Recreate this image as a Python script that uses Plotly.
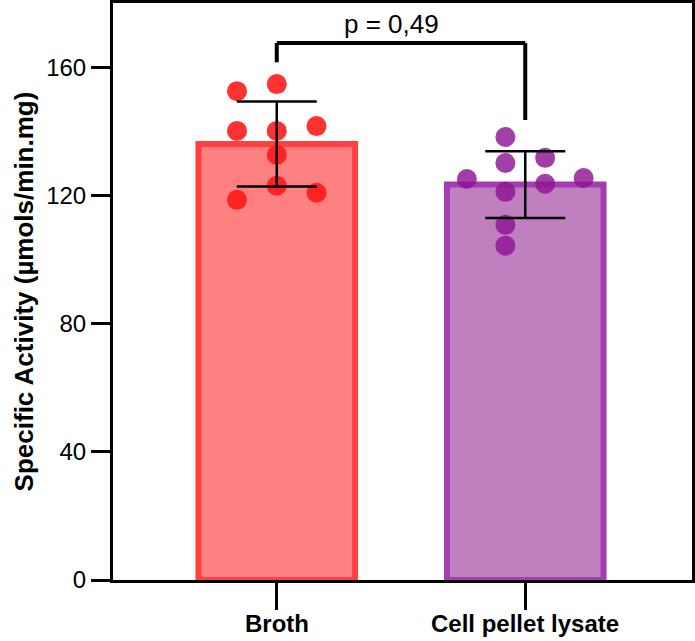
import plotly.graph_objects as go
import numpy as np

categories = ["Broth", "Cell pellet lysate"]
broth_values = [152.5, 154.7, 140.1, 140.1, 141.6, 132.6, 123.0, 120.8, 118.6]
broth_jitter = [-0.16, 0.0, -0.16, 0.0, 0.16, 0.0, 0.0, 0.16, -0.16]
lysate_values = [138.2, 130.1, 131.7, 125.1, 125.4, 123.6, 121.1, 110.8, 104.3]
lysate_jitter = [-0.08, -0.08, 0.08, -0.235, 0.235, 0.08, -0.08, -0.08, -0.08]
y_ticks = [0, 40, 80, 120, 160]
p_label = "p = 0,49"

groups = [broth_values, lysate_values]
means = [float(np.mean(g)) for g in groups]
sds = [float(np.std(g, ddof=1)) for g in groups]
xpos = [0, 1]

fill_colors = ["#FF8080", "#C080C0"]
line_colors = ["#FF4040", "#A43DB0"]
dot_colors = ["rgba(255,20,20,0.87)", "rgba(140,20,148,0.82)"]

fig = go.Figure()
fig.add_trace(go.Bar(
    x=xpos, y=means, width=0.63,
    marker=dict(color=fill_colors, line=dict(color=line_colors, width=6)),
    showlegend=False, hoverinfo="skip"))

for i, (vals, jit) in enumerate([(broth_values, broth_jitter), (lysate_values, lysate_jitter)]):
    fig.add_trace(go.Scatter(
        x=[xpos[i] + j for j in jit], y=vals, mode="markers",
        marker=dict(size=20, color=dot_colors[i], line=dict(width=0)),
        showlegend=False, hoverinfo="skip"))

fig.add_trace(go.Scatter(
    x=xpos, y=means, mode="markers",
    marker=dict(size=1, color="rgba(0,0,0,0)"),
    error_y=dict(type="data", array=sds, visible=True, color="black", thickness=2.5, width=40),
    showlegend=False, hoverinfo="skip"))

# significance bracket
br_top = 167.5
fig.add_shape(type="line", x0=0, x1=0, y0=161.5, y1=br_top, line=dict(color="black", width=4))
fig.add_shape(type="line", x0=0, x1=1, y0=br_top, y1=br_top, line=dict(color="black", width=4))
fig.add_shape(type="line", x0=1, x1=1, y0=143.5, y1=br_top, line=dict(color="black", width=4))
fig.add_annotation(x=0.46, y=br_top, text=p_label, showarrow=False, yanchor="bottom", yshift=2,
                   font=dict(family="Liberation Sans, Arial", size=26, color="black"))

# category labels (placed as annotations so they sit close under the long ticks)
for xv, lab in zip(xpos, categories):
    fig.add_annotation(x=xv, y=0, xref="x", yref="paper", text=lab, showarrow=False,
                       yanchor="top", xanchor="center", yshift=-28,
                       font=dict(family="Liberation Sans, Arial", size=24, color="black", weight="bold"))

fig.update_layout(
    width=695, height=641,
    margin=dict(l=113, r=3, t=3, b=61),
    plot_bgcolor="white", paper_bgcolor="white",
    font=dict(family="Liberation Sans, Arial", color="black"),
)
fig.update_xaxes(
    range=[-0.659, 1.671], tickvals=xpos, ticktext=categories, showticklabels=False, automargin=False,
    showline=True, linecolor="black", linewidth=3, mirror=True,
    ticks="outside", ticklen=27, tickwidth=3, tickcolor="black",
    showgrid=False, zeroline=False)
fig.update_yaxes(
    range=[0, 180], tickvals=y_ticks, automargin=False,
    showline=True, linecolor="black", linewidth=3, mirror=True,
    ticks="outside", ticklen=19, tickwidth=3, tickcolor="black",
    tickfont=dict(size=24), showgrid=False, zeroline=False,
    title=dict(text="Specific Activity (µmols/min.mg)", font=dict(size=26, weight="bold"), standoff=6))

fig.write_html("out.html")
